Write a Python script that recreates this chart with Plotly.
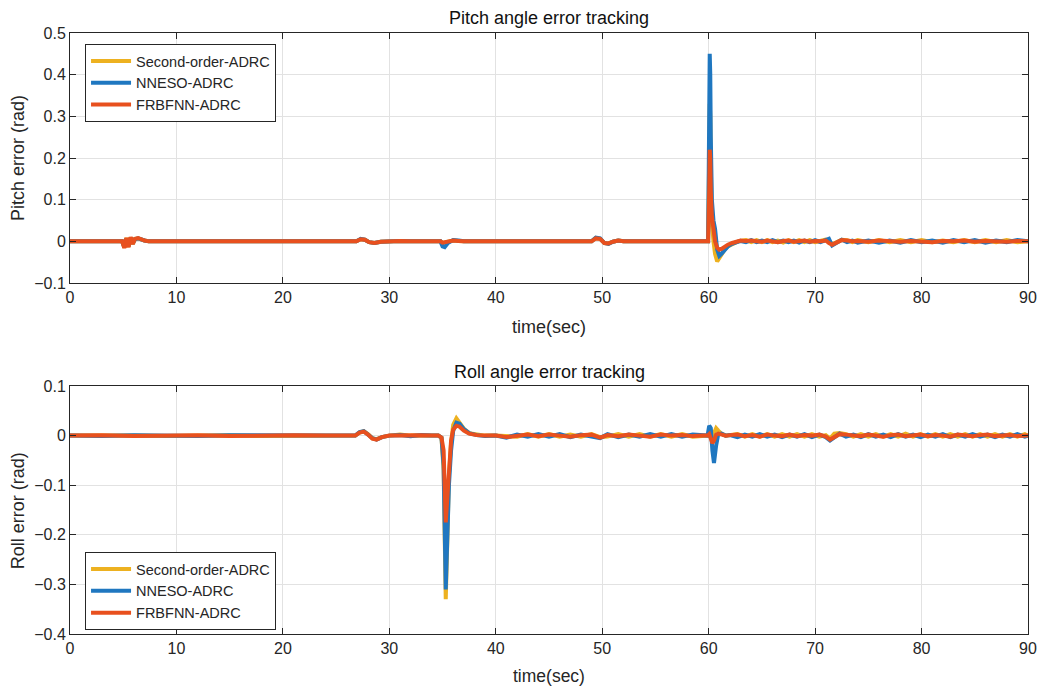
import plotly.graph_objects as go

# ---------------- Pitch angle error tracking ----------------
pitch_time = [0, 4.9, 5.1, 5.3, 5.5, 5.7, 5.9, 6.1, 6.4, 6.7, 7.0, 7.4, 8.0,
              12.0, 12.5, 13.0, 20.0,
              26.9, 27.3, 27.7, 28.1, 28.6, 29.2, 30.0, 31.0, 32.0,
              33.0, 34.8, 35.0, 35.2, 35.5, 36.0, 36.5, 37.0,
              42.0,
              49.0, 49.4, 49.8, 50.2, 50.6, 51.0, 51.5, 52.0,
              56.0,
              59.95, 60.05, 60.1, 60.15, 60.2, 60.3, 60.45, 60.6, 60.8, 61.0, 61.2, 61.5, 61.8, 62.2, 62.6, 63.0,
              63.5, 64, 64.5, 65, 65.5, 66, 66.5, 67, 67.5, 68, 68.5, 69, 69.5, 70, 70.5, 71, 71.3, 71.6, 72, 72.5,
              73, 73.5, 74, 75, 76, 77, 78, 79, 80, 81, 82, 83, 84, 85, 86, 87, 88, 89, 90]

pitch_second = [0, 0, -0.015, 0.008, -0.013, 0.009, -0.006, 0.006, 0.007, 0.004, 0.002, 0, 0,
                0, 0.002, 0, 0,
                0, 0.005, 0.004, -0.002, -0.004, -0.001, 0, 0.001, 0,
                0, 0, -0.004, -0.003, 0, 0.002, 0.001, 0,
                0,
                0, 0.008, 0.006, -0.004, -0.005, -0.001, 0.002, 0,
                0,
                0, 0.20, 0.33, 0.30, 0.18, 0.05, 0.0, -0.03, -0.048, -0.04, -0.03, -0.02, -0.012, -0.006, -0.002, 0.001,
                0.003, -0.002, 0.003, -0.002, 0.003, -0.002, 0.002, -0.003, 0.003, -0.002, 0.003, -0.002, 0.003, -0.002, 0.002, 0.004, 0.002, -0.007, -0.002, 0.004,
                0.003, -0.002, 0.003, -0.002, 0.003, -0.002, 0.003, -0.002, 0.003, -0.002, 0.002, -0.002, 0.003, -0.002, 0.003, -0.002, 0.003, -0.002, 0]

pitch_nneso = [0, 0, -0.014, 0.007, -0.012, 0.009, -0.005, 0.005, 0.007, 0.004, 0.002, 0, 0,
               0, 0.002, 0, 0,
               0, 0.006, 0.004, -0.002, -0.004, -0.001, 0, 0.001, 0,
               0, 0, -0.012, -0.014, -0.004, 0.003, 0.002, 0,
               0,
               0, 0.009, 0.007, -0.004, -0.006, -0.001, 0.002, 0,
               0,
               0, 0.30, 0.45, 0.40, 0.25, 0.10, 0.05, 0.03, -0.02, -0.035, -0.03, -0.02, -0.012, -0.006, -0.002, 0.001,
               -0.002, 0.003, -0.002, 0.002, -0.002, 0.003, -0.002, 0.002, -0.002, 0.002, -0.003, 0.002, -0.002, 0.003, -0.002, 0.003, 0.006, -0.010, -0.004, 0.004,
               -0.002, 0.002, -0.003, 0.002, -0.003, 0.002, -0.003, 0.003, -0.002, 0.002, -0.003, 0.003, -0.002, 0.003, -0.003, 0.002, -0.002, 0.003, 0]

pitch_frbfnn = [0, 0, -0.016, 0.008, -0.014, 0.010, -0.006, 0.006, 0.008, 0.004, 0.002, 0, 0,
                0, 0.002, 0, 0,
                0, 0.005, 0.004, -0.002, -0.004, -0.001, 0, 0.001, 0,
                0, 0, -0.003, -0.002, 0, 0.002, 0.001, 0,
                0,
                0, 0.007, 0.006, -0.004, -0.005, -0.001, 0.002, 0,
                0,
                0, 0.12, 0.22, 0.20, 0.12, 0.06, 0.03, 0.0, -0.015, -0.02, -0.018, -0.012, -0.008, -0.004, 0.0, 0.002,
                0.001, 0.002, 0, -0.001, 0.002, 0, -0.002, 0.001, 0.002, -0.001, 0, 0.002, -0.001, 0.001, 0, 0.002, -0.004, -0.008, -0.003, 0.003,
                0.002, 0, 0.001, -0.001, 0.002, 0, -0.001, 0.001, 0, -0.002, 0.001, 0, 0.002, -0.001, 0.001, 0, -0.001, 0.001, 0]

# ---------------- Roll angle error tracking ----------------
roll_time = [0, 3, 6, 9, 12, 15, 18, 21, 24, 26.8,
             27.2, 27.6, 28.0, 28.4, 28.8, 29.3, 30, 31, 32, 33, 34,
             34.6, 34.9, 35.1, 35.3, 35.45, 35.6, 35.8, 36.0, 36.3, 36.6, 37.0, 37.5, 38.2, 39, 40,
             41, 42, 43, 44, 45, 46, 47, 48, 49, 49.8, 50.5, 51.5, 52.5, 53.5, 54.5, 55.5, 56.5, 57.5, 58.5, 59.5,
             59.9, 60.05, 60.2, 60.35, 60.5, 60.7, 60.9, 61.2, 61.6, 62,
             62.7, 63.4, 64.1, 64.8, 65.5, 66.2, 66.9, 67.6, 68.3, 69, 69.7, 70.4,
             71.0, 71.4, 71.8, 72.3, 72.9,
             73.6, 74.3, 75, 75.7, 76.4, 77.1, 77.8, 78.5, 79.2, 79.9,
             80.6, 81.3, 82, 82.7, 83.4, 84.1, 84.8, 85.5, 86.2, 86.9,
             87.6, 88.3, 89, 89.7, 90]

roll_second = [0, 0.001, 0, -0.001, 0, 0.001, -0.001, 0, 0.001, 0,
               0.006, 0.009, 0.003, -0.005, -0.007, -0.003, 0, 0.002, 0, 0.001, 0,
               0, -0.004, -0.07, -0.33, -0.21, -0.08, -0.015, 0.022, 0.035, 0.027, 0.014, 0.005, 0.002, 0, 0,
               -0.002, -0.002, 0.003, -0.002, 0.003, -0.002, 0.002, -0.002, 0.003, -0.003, -0.002, 0.003, -0.002, 0.003, -0.002, 0.003, -0.002, 0.003, -0.002, 0,
               0, 0.005, -0.005, -0.01, 0.005, 0.015, 0.01, 0.004, 0, 0.001,
               0.003, -0.002, 0.003, -0.002, 0.003, -0.002, 0.003, -0.002, 0.003, -0.002, 0.003, -0.002,
               0.001, -0.006, 0.004, 0.005, 0.003,
               -0.002, 0.003, -0.002, 0.003, -0.002, 0.003, -0.002, 0.004, -0.002, 0.003,
               -0.002, 0.003, -0.002, 0.003, -0.002, 0.003, -0.002, 0.003, -0.002, 0.003,
               -0.002, 0.003, -0.002, 0.003, 0]

roll_nneso = [0, -0.001, 0.001, 0, -0.001, 0.001, 0, -0.001, 0, 0,
              0.007, 0.009, 0.002, -0.005, -0.008, -0.003, 0, 0.001, -0.001, 0.001, 0,
              0, -0.004, -0.06, -0.31, -0.2, -0.1, -0.03, 0.01, 0.026, 0.024, 0.013, 0.005, 0.001, -0.001, 0,
              -0.004, 0.002, -0.002, 0.003, -0.002, 0.003, -0.003, 0.002, -0.002, -0.005, 0.003, -0.003, 0.002, -0.002, 0.003, -0.002, 0.003, -0.002, 0.002, 0,
              0, 0.02, 0.015, -0.03, -0.055, -0.02, 0.003, 0.004, 0, 0.001,
              -0.003, 0.002, -0.002, 0.003, -0.002, 0.002, -0.003, 0.002, -0.002, 0.003, -0.003, 0.002,
              -0.003, -0.010, -0.003, 0.004, -0.002,
              0.002, -0.003, 0.003, -0.002, 0.002, -0.003, 0.003, -0.002, 0.002, -0.003,
              0.002, -0.002, 0.003, -0.003, 0.002, -0.002, 0.003, -0.002, 0.002, -0.003,
              0.002, -0.002, 0.003, -0.002, 0]

roll_frbfnn = [0, 0.001, -0.001, 0, 0.001, -0.001, 0, 0.001, 0, 0,
               0.006, 0.008, 0.002, -0.006, -0.008, -0.003, 0, 0.001, 0, 0.001, 0,
               0, -0.004, -0.03, -0.175, -0.12, -0.05, -0.01, 0.012, 0.02, 0.018, 0.01, 0.004, 0.001, 0, 0,
               -0.003, 0, 0.002, -0.001, 0.002, 0, -0.002, 0.001, 0.002, -0.004, 0.001, -0.001, 0.002, 0, -0.002, 0.002, 0, 0.001, -0.001, 0,
               0, 0.003, -0.008, -0.015, -0.01, 0.002, 0.004, 0.002, 0, 0.001,
               0.002, -0.001, 0.001, -0.002, 0.002, 0, -0.001, 0.002, -0.001, 0.001, 0, 0.002,
               -0.002, -0.008, -0.004, 0.003, 0.002,
               0, -0.001, 0.002, 0, -0.002, 0.001, 0.002, -0.001, 0, 0.002,
               -0.001, 0.001, 0, -0.002, 0.002, 0, -0.001, 0.001, 0.002, -0.001,
               0, 0.001, -0.001, 0.001, 0]

series_names = ["Second-order-ADRC", "NNESO-ADRC", "FRBFNN-ADRC"]
series_colors = ["#EDB120", "#1F77C0", "#E8501E"]

x_ticks = [0, 10, 20, 30, 40, 50, 60, 70, 80, 90]

FONT = "Liberation Sans, Arial, sans-serif"
TXT = "#262626"

fig = go.Figure()

pitch_vals = [pitch_second, pitch_nneso, pitch_frbfnn]
roll_vals = [roll_second, roll_nneso, roll_frbfnn]

for name, color, vals in zip(series_names, series_colors, pitch_vals):
    fig.add_trace(go.Scatter(x=pitch_time, y=vals, mode="lines", name=name,
                             line=dict(color=color, width=4),
                             xaxis="x", yaxis="y", legend="legend"))
for name, color, vals in zip(series_names, series_colors, roll_vals):
    fig.add_trace(go.Scatter(x=roll_time, y=vals, mode="lines", name=name,
                             line=dict(color=color, width=4),
                             xaxis="x2", yaxis="y2", legend="legend2"))

axis_common = dict(showline=True, linecolor=TXT, linewidth=1, mirror="ticks",
                   ticks="inside", ticklen=6, tickcolor=TXT, showgrid=True,
                   gridcolor="#E2E2E2", gridwidth=1, zeroline=False, automargin=False,
                   tickfont=dict(family=FONT, size=16, color=TXT))

top_dom = [0.584, 1.0]
bot_dom = [0.0, 0.4126]

legend_common = dict(xanchor="left", yanchor="top", bordercolor=TXT, borderwidth=1,
                     bgcolor="white", font=dict(family=FONT, size=14.5, color=TXT),
                     tracegroupgap=0, itemwidth=40)

fig.update_layout(
    width=1040, height=688,
    margin=dict(l=70, r=12, t=33, b=54, autoexpand=False),
    paper_bgcolor="white", plot_bgcolor="white",
    font=dict(family=FONT, color=TXT),
    xaxis=dict(domain=[0, 1], anchor="y", range=[0, 90], tickvals=x_ticks, **axis_common),
    yaxis=dict(domain=top_dom, anchor="x", range=[-0.1, 0.5], dtick=0.1, tick0=0, **axis_common),
    xaxis2=dict(domain=[0, 1], anchor="y2", range=[0, 90], tickvals=x_ticks, **axis_common),
    yaxis2=dict(domain=bot_dom, anchor="x2", range=[-0.4, 0.1], dtick=0.1, tick0=0, **axis_common),
    legend=dict(x=0.0157, y=0.9817, **legend_common),
    legend2=dict(x=0.0157, y=0.1364, **legend_common),
    showlegend=True,
)

annotations = [
    dict(text="Pitch angle error tracking", x=0.5, y=1.025, xref="paper", yref="paper",
         showarrow=False, font=dict(family=FONT, size=18, color="#111111"), yanchor="middle"),
    dict(text="Roll angle error tracking", x=0.5, y=0.436, xref="paper", yref="paper",
         showarrow=False, font=dict(family=FONT, size=18, color="#111111"), yanchor="middle"),
    dict(text="time(sec)", x=0.5, y=0.5108, xref="paper", yref="paper",
         showarrow=False, font=dict(family=FONT, size=18, color=TXT), yanchor="middle"),
    dict(text="time(sec)", x=0.5, y=-0.0705, xref="paper", yref="paper",
         showarrow=False, font=dict(family=FONT, size=17.5, color=TXT), yanchor="middle"),
    dict(text="Pitch error (rad)", x=-0.0543, y=0.792, xref="paper", yref="paper",
         showarrow=False, textangle=-90, font=dict(family=FONT, size=18, color=TXT),
         xanchor="center", yanchor="middle"),
    dict(text="Roll error (rad)", x=-0.0543, y=0.206, xref="paper", yref="paper",
         showarrow=False, textangle=-90, font=dict(family=FONT, size=18, color=TXT),
         xanchor="center", yanchor="middle"),
]
fig.update_layout(annotations=annotations)

fig.write_html("out.html")
